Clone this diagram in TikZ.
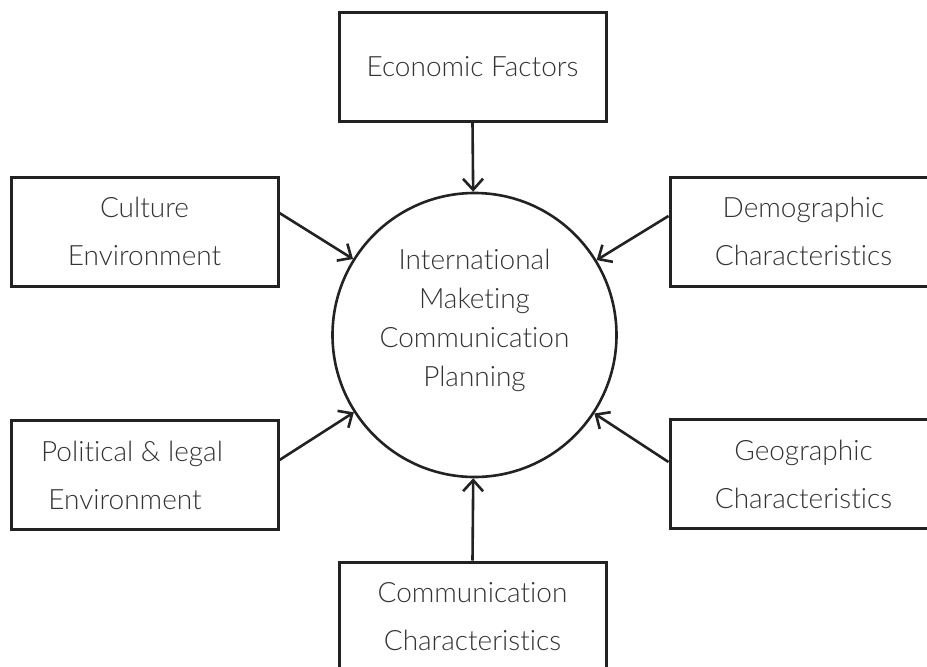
\documentclass[tikz,border=0pt]{standalone}
\usepackage{fontspec}
\setmainfont{Lato}[UprightFont=* Light, Ligatures=NoCommon]
\usetikzlibrary{arrows.meta}
\definecolor{ink}{HTML}{222222}
\definecolor{txt}{HTML}{333333}
\begin{document}
\begin{tikzpicture}[x=1pt,y=-1pt,
  box/.style={draw=ink, line width=3pt, minimum width=267pt, minimum height=109pt,
    inner sep=0pt, align=center, text=txt, font=\fontsize{28}{48}\selectfont},
  hub/.style={draw=ink, line width=2.6pt, circle, minimum size=284pt, inner sep=0pt},
  hubtext/.style={text=txt, align=center, font=\fontsize{28}{39}\selectfont},
  feed/.style={draw=ink, line width=2.6pt,
    -{Straight Barb[length=11pt,width=20pt,line width=2.6pt]}}]
\useasboundingbox (0,0) rectangle (927,667);
\clip (0,0) rectangle (927,667);

% central planning circle
\node[hub] (circ) at (474.5,335) {};
\node[hubtext] (ctext) at (474.5,320) {International\\Maketing\\Communication\\Planning};

% surrounding factors
\node[box] (econ) at (472.5,66.5) {Economic Factors};
\node[box] (cult) at (144.5,231.5) {Culture\\Environment};
\node[box] (demo) at (803.5,231.5) {Demographic\\Characteristics};
\node[box] (pol)  at (144.5,475) {Political \& legal\hspace*{25pt}\\Environment\hspace*{39pt}};
\node[box] (geo)  at (803.5,474) {Geographic\\Characteristics};
\node[box] (comm) at (472.5,616.5) {Communication\\Characteristics};

% influences pointing into the circle
\draw[feed] (econ.south) -- (circ);
\draw[feed] (comm.north) -- (circ);
\draw[feed] ([yshift=18.5pt]cult.east) -- (circ);
\draw[feed] ([yshift=15.5pt]demo.west) -- (circ);
\draw[feed] ([yshift=15pt]pol.east) -- (circ);
\draw[feed] ([yshift=12pt]geo.west) -- (circ);
\end{tikzpicture}
\end{document}
